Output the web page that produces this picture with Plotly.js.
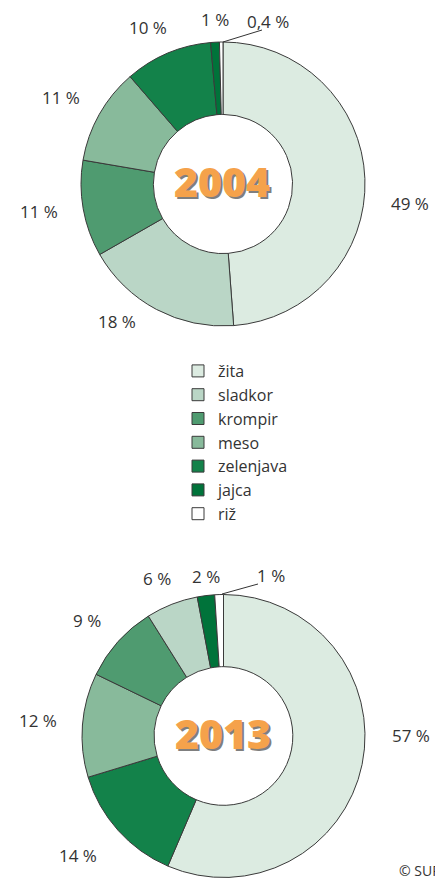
<!DOCTYPE html>
<html>
<head>
<meta charset="utf-8">
<script src="https://cdn.plot.ly/plotly-3.0.1.min.js"></script>
<style>html,body{margin:0;padding:0;background:#fff;}#chart{width:435px;height:878px;}</style>
</head>
<body>
<div id="chart"></div>
<script>
// ---- data ----
const categories2004 = ["žita", "sladkor", "krompir", "meso", "zelenjava", "jajca", "riž"];
const values2004 = [49, 18, 11, 11, 10, 1, 0.4];
const categories2013 = ["žita", "zelenjava", "meso", "krompir", "sladkor", "jajca", "riž"];
const values2013 = [57, 14, 12, 9, 6, 2, 1];
const year2004 = "2004";
const year2013 = "2013";
const source = "© SURS";

// ---- styles ----
const colorMap = {
  "žita": "#dcebe1",
  "sladkor": "#bad6c6",
  "krompir": "#4f9b70",
  "meso": "#88ba9b",
  "zelenjava": "#13824a",
  "jajca": "#00733a",
  "riž": "#ffffff"
};
const W = 435, H = 878;
const px = x => x / W;
const py = y => 1 - y / H;
const fmt = v => String(v).replace('.', ',') + ' %';

// label positions (pixels) in slice order
const labelPos2004 = [[410, 203], [117, 322], [39, 212], [61, 97], [148, 27], [215, 20], [268, 22]];
const labelPos2013 = [[411, 735], [78, 855], [38, 720], [87, 620], [157, 578], [206, 576], [271, 575]];

const textColor = "#333333";
const font = "'Open Sans', 'Noto Sans', sans-serif";

function pieTrace(cats, vals, dom, showLeg) {
  return {
    type: "pie",
    labels: cats,
    values: vals,
    sort: false,
    direction: "clockwise",
    rotation: 0,
    hole: 0.49,
    textinfo: "none",
    hoverinfo: "label+value",
    showlegend: showLeg,
    marker: {
      colors: cats.map(c => colorMap[c]),
      line: { color: "#3a3a3a", width: 1 }
    },
    domain: dom
  };
}

const traces = [
  pieTrace(categories2004, values2004, { x: [px(81), px(365)], y: [py(326), py(42)] }, true),
  pieTrace(categories2013, values2013, { x: [px(82), px(365)], y: [py(877.5), py(594.5)] }, false)
];

const annotations = [];
function addLabels(vals, pos) {
  vals.forEach((v, i) => {
    annotations.push({
      xref: "paper", yref: "paper",
      x: px(pos[i][0]), y: py(pos[i][1]),
      xanchor: "center", yanchor: "middle",
      text: fmt(v), showarrow: false,
      font: { family: font, size: 17, color: textColor }
    });
  });
}
addLabels(values2004, labelPos2004);
addLabels(values2013, labelPos2013);

function addYear(txt, cx, cy) {
  annotations.push({
    xref: "paper", yref: "paper", x: px(cx), y: py(cy),
    xanchor: "center", yanchor: "middle", text: txt, showarrow: false,
    font: { family: font, size: 41, weight: 800, color: "#f5a24b", shadow: "2px 2px 0px #7f7f7f" }
  });
}
addYear(year2004, 222, 181);
addYear(year2013, 223, 733);

annotations.push({
  xref: "paper", yref: "paper", x: px(397), y: py(870),
  xanchor: "left", yanchor: "middle", text: source, showarrow: false,
  font: { family: font, size: 14, color: textColor }
});

const shapes = [
  { type: "line", xref: "paper", yref: "paper", x0: px(223), y0: py(42), x1: px(262), y1: py(30), line: { color: "#333", width: 1 } },
  { type: "line", xref: "paper", yref: "paper", x0: px(222), y0: py(594), x1: px(258), y1: py(584), line: { color: "#333", width: 1 } }
];

const layout = {
  width: W, height: H,
  margin: { l: 0, r: 0, t: 0, b: 0 },
  paper_bgcolor: "#ffffff",
  plot_bgcolor: "#ffffff",
  showlegend: true,
  legend: {
    x: px(178), y: py(354), xanchor: "left", yanchor: "top",
    font: { family: font, size: 16, color: textColor },
    bgcolor: "rgba(0,0,0,0)", borderwidth: 0
  },
  annotations: annotations,
  shapes: shapes
};

Plotly.newPlot("chart", traces, layout, { staticPlot: true, displayModeBar: false });
</script>
</body>
</html>
